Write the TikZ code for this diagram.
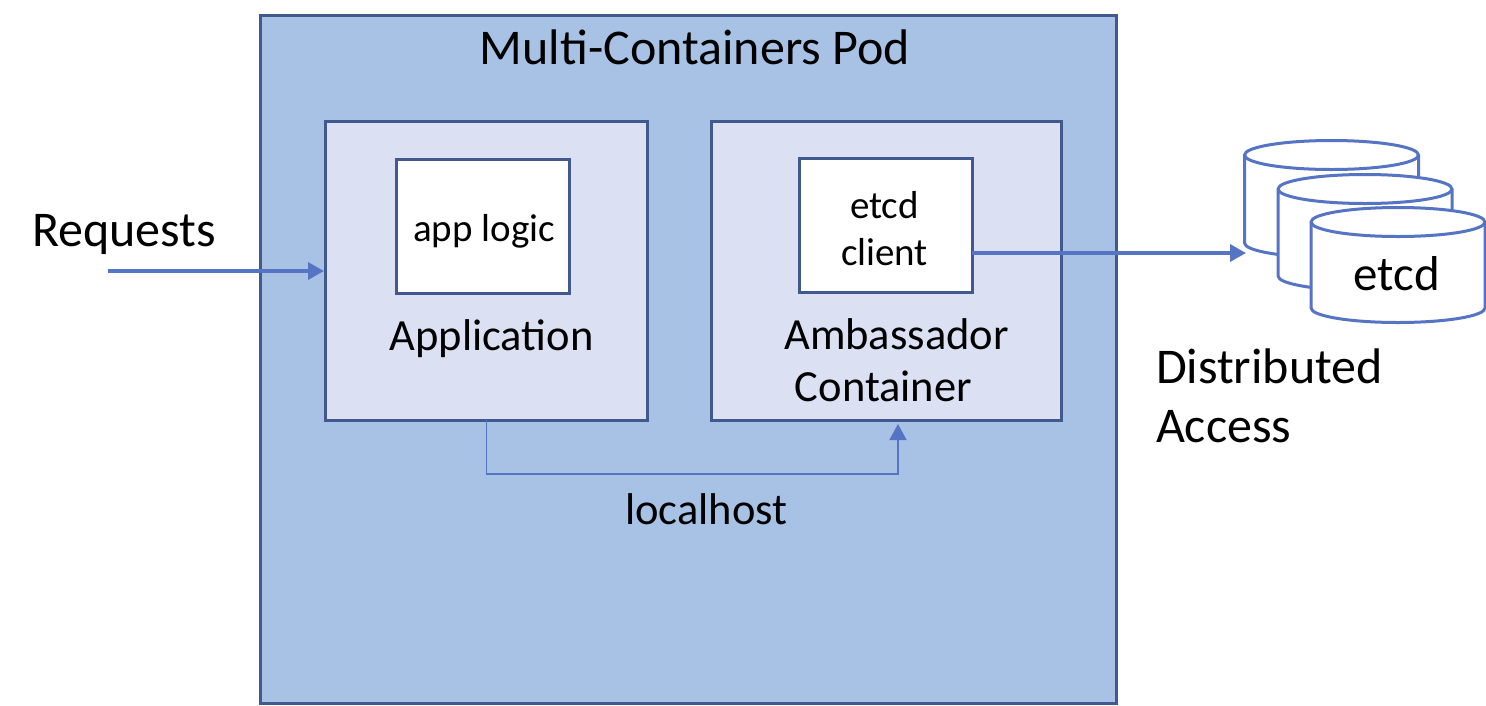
\documentclass[tikz,border=0pt]{standalone}
\usepackage{fontspec}
\setmainfont{Carlito}
\usetikzlibrary{arrows.meta}
\definecolor{podfill}{HTML}{A8C2E6}
\definecolor{boxedge}{HTML}{41598F}
\definecolor{innerfill}{HTML}{DBE1F2}
\definecolor{linkblue}{HTML}{5574C4}
\newcommand{\fs}[1]{\fontsize{#1}{1.2\dimexpr #1pt\relax}\selectfont}
% x of left side, y of top ellipse centre, y where the side ends
\newcommand{\dbcyl}[3]{%
  \draw[dbline,fill=white] (#1,#2) -- (#1,#3) arc[start angle=180,end angle=360,x radius=87pt,y radius=14.5pt]
    -- (#1+174,#2) arc[start angle=0,end angle=180,x radius=87pt,y radius=14.5pt] -- cycle;
  \draw[dbline] (#1,#2) arc[start angle=180,end angle=360,x radius=87pt,y radius=14.5pt];
}
\tikzset{
  x=1pt,y=-1pt,
  every node/.style={inner sep=0pt,outer sep=0pt},
  podbox/.style={draw=boxedge,line width=3pt,fill=podfill,anchor=north west,minimum width=856pt,minimum height=688pt},
  containerbox/.style={draw=boxedge,line width=3pt,fill=innerfill,anchor=north west,minimum height=299pt},
  logicbox/.style={draw=boxedge,line width=3pt,fill=white,minimum width=173pt,minimum height=134pt},
  dbline/.style={draw=linkblue,line width=3pt},
  label/.style={anchor=base,text=black,align=center},
  thickarrow/.style={draw=linkblue,line width=3.4pt,-{Triangle[length=16pt,width=17pt]}},
  thinarrow/.style={draw=linkblue,line width=1.6pt,-{Triangle[length=16pt,width=17pt]}},
}
\begin{document}
\begin{tikzpicture}
\useasboundingbox (0,0) rectangle (1486,705);
\node[podbox] (pod) at (260,15) {};
\node[label,font=\fs{50}] (podtitle) at (695,64.5) {Multi-Containers Pod};
\node[containerbox,minimum width=322pt] (app) at (325,121) {};
\node[containerbox,minimum width=350pt] (amb) at (711,121) {};
\node[logicbox] (logic) at (482.5,226) {};
\node[logicbox] (client) at (885.5,225) {};
\node[label,font=\fs{39}] (logiclabel) at (484,241) {app logic};
\node[label,font=\fs{39}] (clientlabel) at (884.5,265) {etcd\\client};
\node[label,font=\fs{44.5}] (applabel) at (491.5,350) {Application};
\node[label,font=\fs{44.5}] (amblabel) at (896.5,401) {Ambassador\\[-1.4pt]Container\hspace*{26pt}};
\node[label,font=\fs{44.5}] (lh) at (706.5,524) {localhost};
\node[label,font=\fs{50}] (req) at (124,246) {Requests};
\node[anchor=base west,align=left,font=\fs{50}] (dist) at (1156,442) {Distributed\\[-1pt]Access};
\dbcyl{1244.5}{155}{243}
\dbcyl{1278}{189}{276}
\dbcyl{1311}{222}{308}
\node[label,font=\fs{49}] (dblabel) at (1397,290) {etcd};
\coordinate (reqstart) at (108,271);
\coordinate (appin) at (324,271);
\coordinate (dbin) at (1246,253);
\coordinate (ambin) at (898,424);
\coordinate (lhbend) at (898,474);
\draw[thickarrow] (reqstart) -- (appin);
\draw[thickarrow] (dbin -| client.east) -- (dbin);
\draw[thinarrow] ([xshift=0.5pt]app.south) |- (lhbend) -- (ambin);
\end{tikzpicture}
\end{document}
